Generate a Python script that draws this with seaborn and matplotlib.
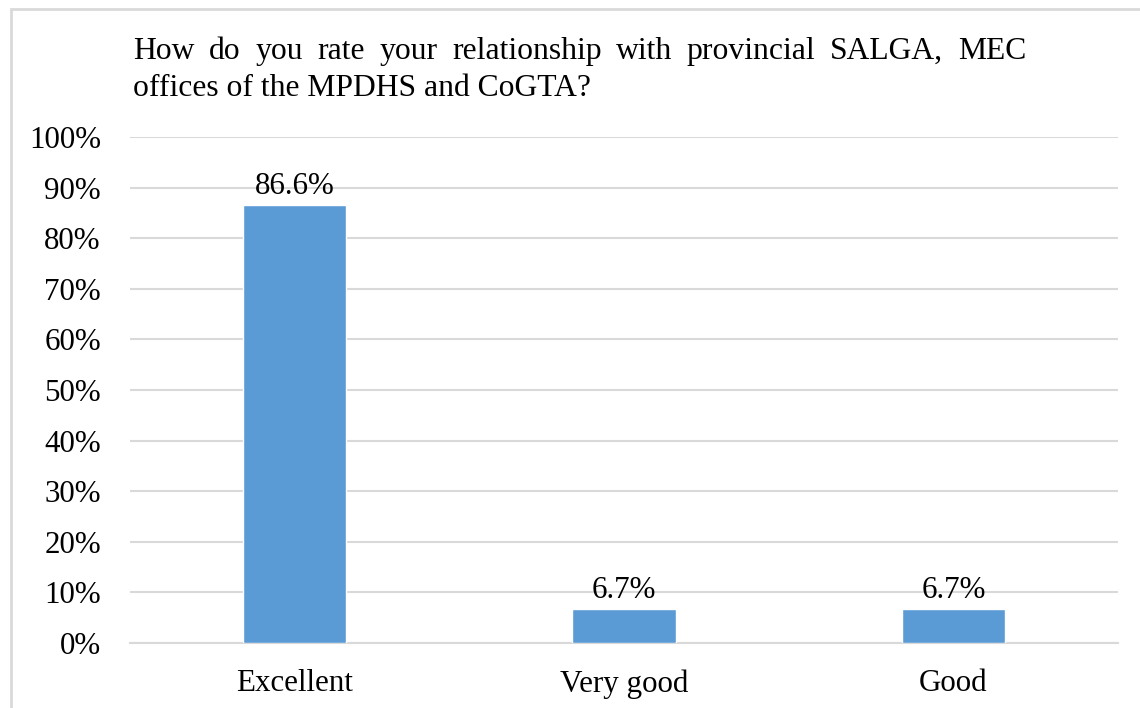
import matplotlib
matplotlib.use("Agg")
import matplotlib.pyplot as plt
import seaborn as sns
import pandas as pd
from matplotlib.patches import Rectangle

categories = ["Excellent", "Very good", "Good"]
shares = [86.6, 6.7, 6.7]
value_labels = ["86.6%", "6.7%", "6.7%"]
y_ticks = [0, 10, 20, 30, 40, 50, 60, 70, 80, 90, 100]
y_tick_labels = [f"{t}%" for t in y_ticks]
title_lines = [
    "How do you rate your relationship with provincial SALGA, MEC",
    "offices of the MPDHS and CoGTA?",
]

sns.set_theme(style="white")
plt.rcParams["font.family"] = ["Liberation Serif", "DejaVu Serif"]

W, H, DPI = 1140, 708, 100
fig = plt.figure(figsize=(W / DPI, H / DPI), dpi=DPI)
ax = fig.add_axes([130 / W, 1 - 643 / H, (1118 - 130) / W, (643 - 137) / H])

df = pd.DataFrame({"category": categories, "share": shares})
sns.barplot(data=df, x="category", y="share", color="#5B9BD5", saturation=1,
            width=0.313, ax=ax, zorder=3)

label_size = 22.3
ax.set_ylim(0, 100)
ax.set_xlim(-0.5, len(categories) - 0.5)
ax.set_yticks(y_ticks)
ax.set_yticklabels(y_tick_labels)
ax.set_xlabel("")
ax.set_ylabel("")
ax.tick_params(axis="y", length=0, pad=21, labelsize=label_size, colors="black")
ax.tick_params(axis="x", length=0, pad=19, labelsize=label_size, colors="black")
for s in ["top", "right", "left"]:
    ax.spines[s].set_visible(False)
ax.spines["bottom"].set_color("#D9D9D9")
ax.spines["bottom"].set_linewidth(1.5)
ax.spines["bottom"].set_zorder(2)
ax.yaxis.grid(True, color="#D9D9D9", linewidth=1.5, zorder=0)
ax.set_axisbelow(True)

for i, (v, lab) in enumerate(zip(shares, value_labels)):
    ax.annotate(lab, (i, v), xytext=(0, 3), textcoords="offset points",
                ha="center", va="bottom", fontsize=label_size, color="black")

# Chart frame
fig.patches.append(Rectangle((11 / W, -0.05), 1.2, 1 - 9 / H + 0.05,
                             transform=fig.transFigure, fill=False,
                             edgecolor="#D9D9D9", linewidth=2))

# Justified title: first line stretched to full width, last line left-aligned
title_size = 22.8
left_px, right_px = 133, 1026
baselines = [59, 96]
fig.canvas.draw()
renderer = fig.canvas.get_renderer()
for li, (line, base) in enumerate(zip(title_lines, baselines)):
    words = line.split(" ")
    y = 1 - base / H
    if li < len(title_lines) - 1:
        texts = [fig.text(0, y, w, fontsize=title_size, ha="left",
                          va="baseline", color="black") for w in words]
        widths = [t.get_window_extent(renderer).width for t in texts]
        gap = (right_px - left_px - sum(widths)) / (len(words) - 1)
        x = left_px
        for t, wd in zip(texts, widths):
            t.set_x(x / W)
            x += wd + gap
    else:
        fig.text(left_px / W, y, line, fontsize=title_size, ha="left",
                 va="baseline", color="black")

fig.savefig("out.png", dpi=DPI)
